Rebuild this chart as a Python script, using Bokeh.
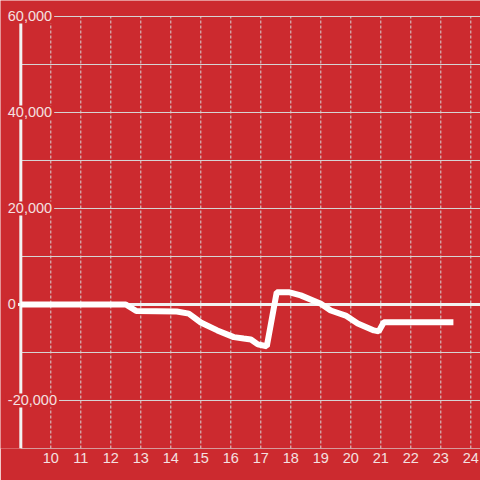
from bokeh.plotting import figure
from bokeh.models import Range1d, FixedTicker, ColumnDataSource
from bokeh.core.properties import value
from bokeh.embed import file_html
from bokeh.resources import INLINE

# ---- data ----
hours = [9.0, 12.5, 12.85, 14.2, 14.6, 15.0, 15.55, 16.1, 16.43, 16.67, 16.9, 17.2,
         17.53, 17.93, 18.33, 19.0, 19.33, 19.83, 20.23, 20.77, 20.93, 21.1, 23.42]
values = [0, 0, -1350, -1450, -1900, -3750, -5400, -6800, -7100, -7300, -8300, -8700,
          2560, 2560, 1900, 150, -1250, -2300, -3950, -5400, -5600, -3700, -3700]
x_ticks = list(range(10, 25))
y_grid_values = [-30000, -20000, -10000, 0, 10000, 20000, 30000, 40000, 50000, 60000]
y_label_values = [-20000, 0, 20000, 40000, 60000]
y_labels = ["-20,000", "0", "20,000", "40,000", "60,000"]

# ---- style ----
BG = "#cc2a2f"
TXT = "#f4e0e0"
GRID = "#d6d6d6"
X0, X1 = 8.323, 24.323
Y0, Y1 = -30000, 63333

p = figure(frame_width=480, frame_height=448,
           x_range=Range1d(X0, X1), y_range=Range1d(Y0, Y1),
           toolbar_location=None, output_backend="svg",
           y_axis_location=None, min_border=0, min_border_bottom=32,
           background_fill_color=BG, border_fill_color=BG,
           outline_line_color=None)
p.xgrid.visible = False
p.ygrid.visible = False

ax = p.xaxis[0]
ax.ticker = FixedTicker(ticks=x_ticks)
ax.axis_line_color = None
ax.major_tick_line_color = None
ax.minor_tick_line_color = None
ax.major_tick_out = 0
ax.major_tick_in = 0
ax.major_label_standoff = 4
ax.major_label_text_color = TXT
ax.major_label_text_font = "Liberation Sans"
ax.major_label_text_font_size = "14.5px"

# horizontal grid lines
hg = ColumnDataSource(dict(y=y_grid_values))
p.segment(x0=9, x1=X1, y0="y", y1="y", source=hg, line_color=GRID, line_width=1)

# vertical dotted grid lines
vg = ColumnDataSource(dict(x=x_ticks))
p.segment(x0="x", x1="x", y0=-30000, y1=60000, source=vg,
          line_color=GRID, line_width=1, line_dash="3 2")

# zero line
p.segment(x0=[8.9], x1=[X1], y0=[0], y1=[0], line_color="#f2f2f2", line_width=3)

# y axis line
p.segment(x0=[9], x1=[9], y0=[-30000], y1=[60000], line_color="#f2f2f2", line_width=3)

# data line
p.line(hours, values, line_color="white", line_width=6)

# y labels with background
lab = ColumnDataSource(dict(x=[9] * len(y_labels), y=y_label_values, t=y_labels))
p.text(x="x", y="y", text="t", source=lab, text_align="left", text_baseline="middle",
       x_offset=-15, text_font=value("Liberation Sans"), text_font_size="14.5px",
       text_color=TXT, background_fill_color=BG, padding=2)

open("out.html", "w").write(file_html(p, INLINE))
